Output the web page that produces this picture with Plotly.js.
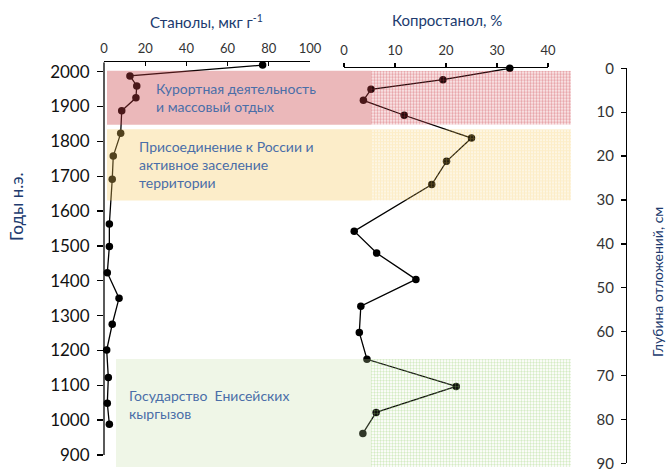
<!DOCTYPE html>
<html>
<head>
<meta charset="utf-8">
<script src="https://cdn.plot.ly/plotly-3.0.1.min.js"></script>
<style>
  html, body { margin: 0; padding: 0; background: #fff; }
  #chart { width: 667px; height: 473px; }
</style>
</head>
<body>
<div id="chart"></div>
<script>
// Core sample: age (years AD) and depth (cm) for each level
const years = [2019, 1988, 1959, 1925, 1888, 1823, 1758, 1691, 1563, 1498, 1423, 1350, 1275, 1201, 1122, 1048, 988];
const depths = [0, 2.6, 4.8, 7.3, 10.7, 15.9, 21.2, 26.5, 37.1, 42.1, 48.1, 54.2, 60.2, 66.3, 72.5, 78.4, 83.2];
// Total stanols, µg/g
const stanols = [77, 12.6, 15.9, 15.5, 8.6, 8.1, 4.5, 4.0, 2.6, 2.6, 1.6, 7.3, 4.0, 1.3, 2.1, 1.6, 2.6];
// Coprostanol share, %
const coprostanol = [32.5, 19.4, 5.3, 3.8, 11.8, 25.0, 20.1, 17.2, 2.0, 6.4, 14.1, 3.3, 3.0, 4.5, 22.0, 6.3, 3.7];

// Tick values
const yearTicks = [900, 1000, 1100, 1200, 1300, 1400, 1500, 1600, 1700, 1800, 1900, 2000];
const stanolTicks = [0, 20, 40, 60, 80, 100];
const coproTicks = [0, 10, 20, 30, 40];
const depthTicks = [0, 10, 20, 30, 40, 50, 60, 70, 80, 90];

// Historical periods (years AD)
const periodNames = [
  'Курортная деятельность<br>и массовый отдых',
  'Присоединение к России и<br>активное заселение<br>территории',
  'Государство\u00a0 Енисейских<br>кыргызов'
];
const periodStart = [1848, 1630, 865];
const periodEnd = [2003, 1835, 1175];

// ---- styling ----
const W = 667, H = 473;
const px = v => v / W;            // horizontal pixel -> paper
const py = v => 1 - v / H;        // vertical pixel -> paper
const FONT = 'Lato, "Open Sans", sans-serif';
const NAVY = '#203a6e';
const LABEL_BLUE = '#4a6ea8';

const bandStyle = [
  { solid: 'rgba(202,62,68,0.37)', hatchBg: 'rgba(205,60,70,0.17)', hatchFg: 'rgba(205,60,70,0.22)', left: 107 },
  { solid: 'rgba(245,200,90,0.33)', hatchBg: 'rgba(245,200,90,0.17)', hatchFg: 'rgba(245,200,90,0.2)', left: 107 },
  { solid: 'rgba(190,220,160,0.25)', hatchBg: 'rgba(190,220,160,0.08)', hatchFg: 'rgba(150,210,110,0.22)', left: 116 }
];
const hatchLeft = 371, bandRight = 571;
const labelPos = [[154, 97.5], [137, 164.3], [126.7, 404]];

const yearRange = [848, 2027];

function hatchSource(w, h, bg, fg) {
  const svg = '<svg xmlns="http://www.w3.org/2000/svg" width="' + w + '" height="' + h + '">' +
    '<defs><pattern id="p" width="3" height="3" patternUnits="userSpaceOnUse">' +
    '<rect width="3" height="3" fill="' + bg + '"/>' +
    '<path d="M0 0.5H3M0.5 0V3" stroke="' + fg + '" stroke-width="1" fill="none"/>' +
    '</pattern></defs><rect width="' + w + '" height="' + h + '" fill="url(#p)"/></svg>';
  return 'data:image/svg+xml;charset=utf-8,' + encodeURIComponent(svg);
}

const shapes = [];
const images = [];
const annotations = [];
const pxPerYear = (H * (1 - 62.3 / H)) / (yearRange[1] - yearRange[0]);

periodNames.forEach((name, i) => {
  const s = bandStyle[i];
  shapes.push({
    type: 'rect', layer: 'above', xref: 'paper', yref: 'y',
    x0: px(s.left), x1: px(hatchLeft), y0: periodStart[i], y1: periodEnd[i],
    fillcolor: s.solid, line: { width: 0 }
  });
  const wpx = bandRight - hatchLeft;
  const hpx = Math.round((periodEnd[i] - periodStart[i]) * pxPerYear);
  images.push({
    source: hatchSource(wpx, hpx, s.hatchBg, s.hatchFg),
    xref: 'paper', yref: 'y', x: px(hatchLeft), y: periodEnd[i],
    sizex: px(wpx), sizey: periodEnd[i] - periodStart[i],
    xanchor: 'left', yanchor: 'top', sizing: 'stretch', layer: 'above'
  });
  annotations.push({
    text: name, xref: 'paper', yref: 'paper',
    x: px(labelPos[i][0]), y: py(labelPos[i][1]),
    xanchor: 'left', yanchor: 'middle', align: 'left', showarrow: false,
    font: { family: FONT, size: 14, color: LABEL_BLUE }
  });
});

// left years axis line (stops at the lowest tick)
shapes.push({
  type: 'line', layer: 'above', xref: 'x domain', yref: 'y',
  x0: 0, x1: 0, y0: yearTicks[0], y1: yearRange[1],
  line: { color: '#000', width: 1.3 }
});

// axis titles
annotations.push(
  { text: 'Станолы, мкг г<sup>-1</sup>', xref: 'paper', yref: 'paper', x: px(206.5), y: py(21.7),
    showarrow: false, xanchor: 'center', yanchor: 'middle', font: { family: FONT, size: 15, color: NAVY } },
  { text: 'Копростанол, %', xref: 'paper', yref: 'paper', x: px(446.5), y: py(20),
    showarrow: false, xanchor: 'center', yanchor: 'middle', font: { family: FONT, size: 15, color: NAVY } },
  { text: 'Годы н.э.', xref: 'paper', yref: 'paper', x: px(16), y: py(207), textangle: -90,
    showarrow: false, xanchor: 'center', yanchor: 'middle', font: { family: FONT, size: 17, color: NAVY } },
  { text: 'Глубина отложений, см', xref: 'paper', yref: 'paper', x: px(657), y: py(282), textangle: -90,
    showarrow: false, xanchor: 'center', yanchor: 'middle', font: { family: FONT, size: 14, color: NAVY } }
);

const lineStyle = { color: '#000', width: 1.3 };
const markerStyle = { color: '#000', size: 7.5 };

const traces = [
  { x: stanols, y: years, xaxis: 'x', yaxis: 'y', type: 'scatter', mode: 'lines+markers',
    line: lineStyle, marker: markerStyle, cliponaxis: false, hoverinfo: 'skip' },
  { x: coprostanol, y: depths, xaxis: 'x2', yaxis: 'y2', type: 'scatter', mode: 'lines+markers',
    line: lineStyle, marker: markerStyle, cliponaxis: false, hoverinfo: 'skip' }
];

const axisBase = { showgrid: false, zeroline: false, linecolor: '#000', linewidth: 1.3,
  tickcolor: '#000', tickwidth: 1.3, fixedrange: true };

const layout = {
  width: W, height: H,
  margin: { l: 0, r: 0, t: 0, b: 0 },
  paper_bgcolor: '#fff', plot_bgcolor: 'rgba(0,0,0,0)',
  showlegend: false,
  xaxis: Object.assign({}, axisBase, {
    domain: [px(104), px(310)], range: [0, 100], side: 'top', anchor: 'y',
    tickmode: 'array', tickvals: stanolTicks, ticks: 'inside', ticklen: 4, showline: true,
    tickfont: { family: FONT, size: 13, color: '#333' }, ticklabelstandoff: 3
  }),
  yaxis: Object.assign({}, axisBase, {
    domain: [0, py(62.3)], range: yearRange, anchor: 'x',
    tickmode: 'array', tickvals: yearTicks, ticks: 'outside', ticklen: 6, showline: false,
    tickfont: { family: FONT, size: 17, color: '#111' }, ticklabelstandoff: 4
  }),
  xaxis2: Object.assign({}, axisBase, {
    domain: [px(344), px(548)], range: [0, 40], side: 'top', anchor: 'y2',
    tickmode: 'array', tickvals: coproTicks, ticks: 'outside', ticklen: 4, showline: true,
    tickfont: { family: FONT, size: 13, color: '#333' }, ticklabelstandoff: 3
  }),
  yaxis2: Object.assign({}, axisBase, {
    domain: [py(463.3), py(68.3)], range: [90, 0], anchor: 'free', position: px(626), side: 'left',
    tickmode: 'array', tickvals: depthTicks, ticks: 'outside', ticklen: 5, showline: true,
    tickfont: { family: FONT, size: 15, color: '#333' }, ticklabelstandoff: 4
  }),
  yaxis3: Object.assign({}, axisBase, {
    domain: [py(467), py(68.3)], range: [899.2, 2016], anchor: 'x2', side: 'left',
    tickmode: 'array', tickvals: yearTicks, ticks: 'outside', ticklen: 4, showline: true,
    showticklabels: false
  }),
  shapes: shapes,
  images: images,
  annotations: annotations
};

Plotly.newPlot('chart', traces, layout, { staticPlot: true, displayModeBar: false });
</script>
</body>
</html>
